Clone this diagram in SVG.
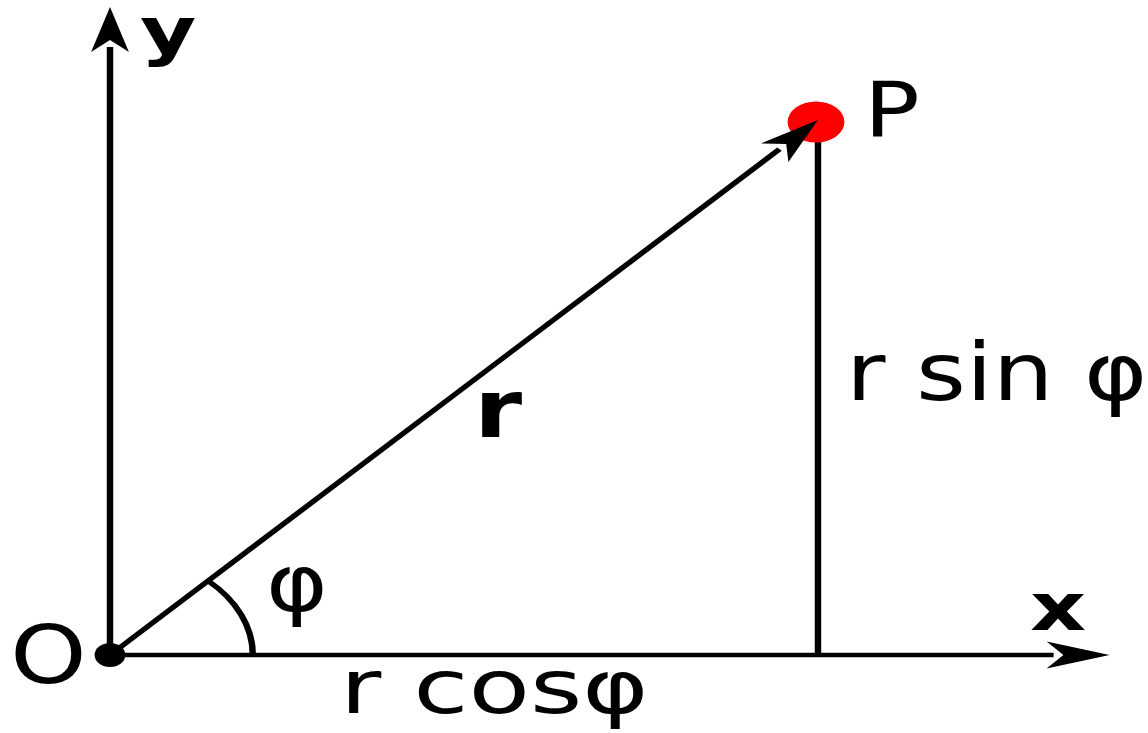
<svg xmlns="http://www.w3.org/2000/svg" width="1148" height="733" viewBox="0 0 1148 733">
<defs>
<style>
.ax{fill:none;stroke:#000;stroke-width:4.6}
.lbl{font-family:"DejaVu Sans","Liberation Sans",sans-serif;fill:#000}
.b{font-weight:bold}
</style>
<marker id="arr" markerUnits="userSpaceOnUse" orient="auto" overflow="visible" refX="0" refY="0" markerWidth="1" markerHeight="1">
<path d="M40,0 L-5,-13.5 L7,0 L-5,13.5 Z" fill="#000"/>
</marker>
</defs>
<rect width="1148" height="733" fill="#fff"/>
<g id="connectors" transform="translate(110,655) scale(1.4,1)">
<line class="ax" x1="0" y1="0" x2="674" y2="0" marker-end="url(#arr)"/>
<line class="ax" x1="0" y1="0" x2="0" y2="-608" marker-end="url(#arr)"/>
<line class="ax" x1="505.7" y1="0" x2="505.7" y2="-533"/>
<path class="ax" d="M102,0 A102,102 0 0 0 70.1,-74.1"/>
</g>
<g id="point-P" transform="translate(110,655) scale(1.4,1)">
<ellipse cx="504.3" cy="-533" rx="20.3" ry="20.5" fill="#f00"/>
</g>
<g id="vector-r" transform="translate(110,655) scale(1.4,1)">
<line class="ax" x1="0" y1="0" x2="478.2" y2="-505.9" marker-end="url(#arr)"/>
</g>
<g id="origin" transform="translate(110,655) scale(1.4,1)">
<ellipse cx="0" cy="0" rx="11" ry="12" fill="#000"/>
</g>
<g id="labels">
<text class="lbl b" font-size="64" transform="translate(140,53) scale(1.35,1)">y</text>
<text class="lbl b" font-size="66" transform="translate(1030,630) scale(1.32,1)">x</text>
<text class="lbl" font-size="80" transform="translate(10,683) scale(1.22,1)">O</text>
<text class="lbl" font-size="77" transform="translate(864,137) scale(1.2,1)">P</text>
<text class="lbl b" font-size="80" transform="translate(474,437) scale(1.22,1)">r</text>
<text class="lbl" font-size="78" transform="translate(266,611) scale(1.2,1)">φ</text>
<text class="lbl" font-size="80" transform="translate(846,400) scale(1.2,1)">r sin φ</text>
<text class="lbl" font-size="75" transform="translate(340,713) scale(1.34,1)">r cosφ</text>
</g>
</svg>
